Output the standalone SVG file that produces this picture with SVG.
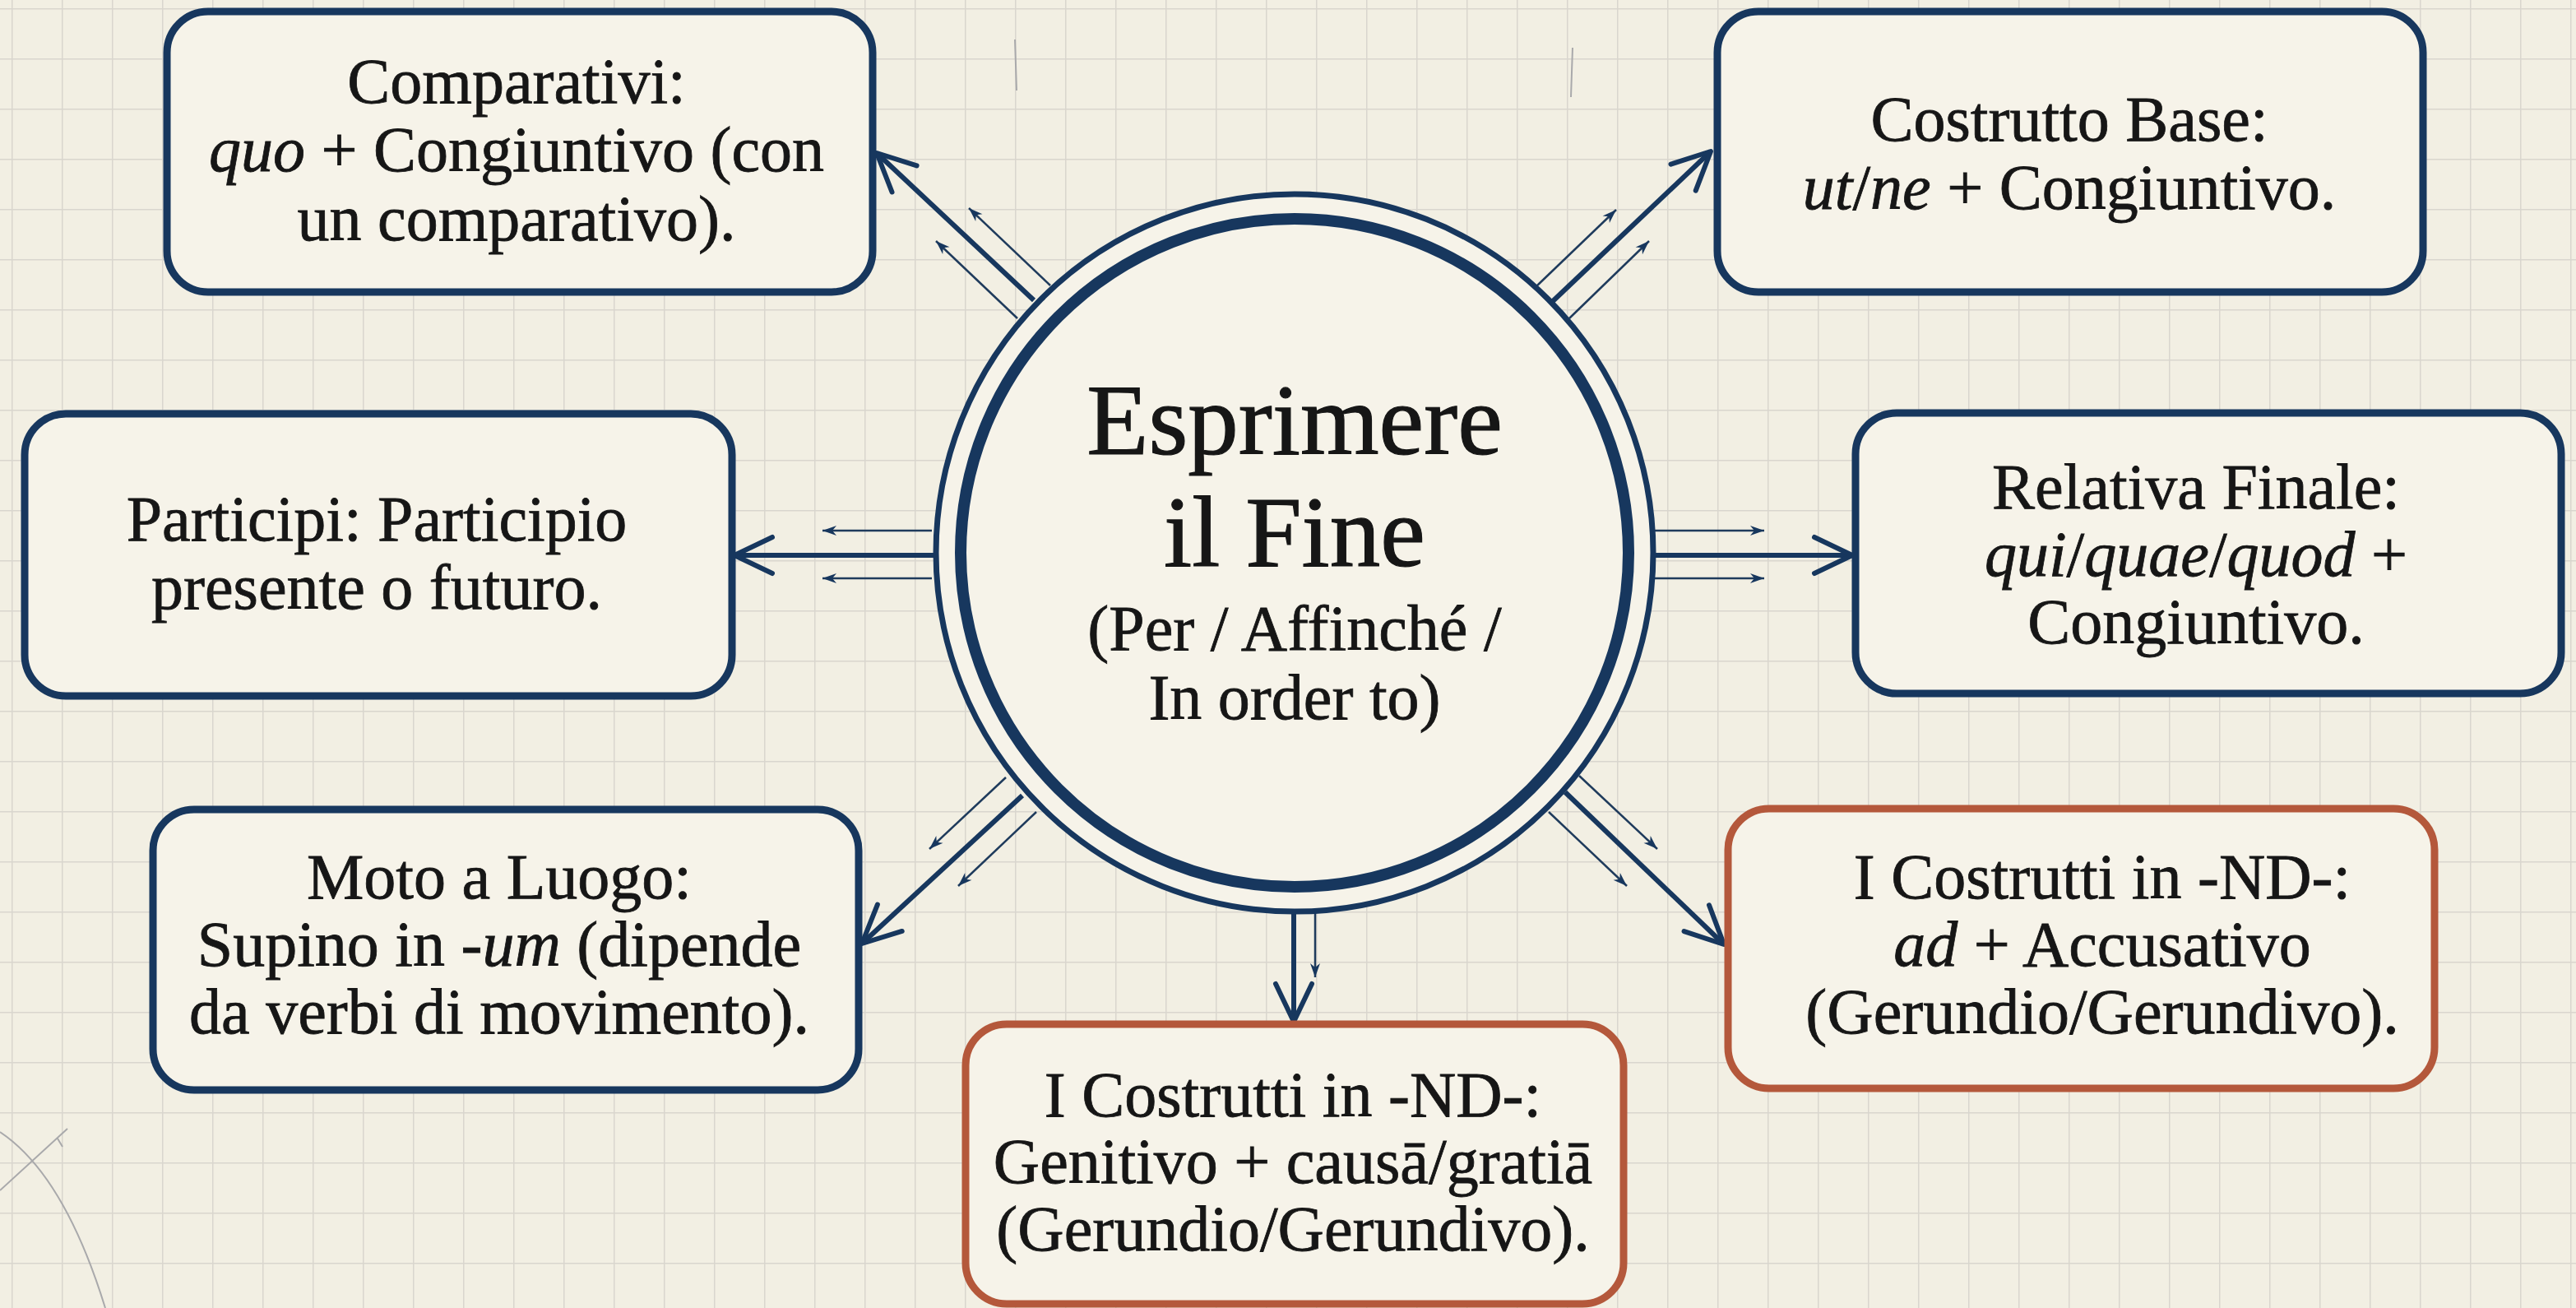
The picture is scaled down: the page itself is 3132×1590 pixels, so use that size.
<svg xmlns="http://www.w3.org/2000/svg" width="3132" height="1590" viewBox="0 0 3132 1590">
<defs>
<pattern id="grid" x="14" y="10" width="61" height="61" patternUnits="userSpaceOnUse">
<path d="M0,0 V61 M0,0 H61" fill="none" stroke="#d9d6ce" stroke-width="3"/>
</pattern>
<marker id="vhead" markerUnits="userSpaceOnUse" markerWidth="80" markerHeight="80" viewBox="-60 -40 80 80" refX="0" refY="0" orient="auto" overflow="visible">
<path d="M-46,-22 L0,0 L-46,22" fill="none" stroke="#17375e" stroke-width="6" stroke-linecap="round" stroke-linejoin="round"/>
</marker>
<marker id="shead" markerUnits="userSpaceOnUse" markerWidth="30" markerHeight="20" viewBox="-20 -10 30 20" refX="0" refY="0" orient="auto" overflow="visible">
<path d="M-17,-6 L0,0 L-17,6 L-12,0 Z" fill="#17375e"/>
</marker>
</defs>
<style>
.box{fill:#f6f3e9;stroke-width:9}
.navy{stroke:#17375e}
.rust{stroke:#b4583b}
.t{font-family:"Liberation Serif","Times New Roman",serif;font-size:78px;fill:#161616;stroke:#161616;stroke-width:0.8;text-anchor:middle}
.title{font-family:"Liberation Serif","Times New Roman",serif;font-size:123px;fill:#161616;stroke:#161616;stroke-width:1.2;text-anchor:middle}
.sub{font-family:"Liberation Serif","Times New Roman",serif;font-size:78px;fill:#161616;stroke:#161616;stroke-width:0.8;text-anchor:middle}
.i{font-style:italic}
.main{stroke:#17375e;stroke-width:6;fill:none;marker-end:url(#vhead)}
.thin{stroke:#1f3b5c;stroke-width:2.5;fill:none;marker-end:url(#shead)}
.sketch{stroke:#a9a9ab;stroke-width:2;fill:none}
</style>
<rect width="3132" height="1590" fill="#f2efe3"/>
<rect width="3132" height="1590" fill="url(#grid)"/>
<g id="sketches">
<path class="sketch" d="M0,1447 L82,1372 M70,1384 l6,10 M0,1376 Q78,1428 128,1590"/>
<path class="sketch" d="M1234,48 l2,62 M1912,58 l-2,60" stroke-width="1.5"/>
</g>
<g id="connectors">
<line class="main" x1="1138" y1="675" x2="893" y2="675"/>
<line class="thin" x1="1133" y1="645" x2="1000" y2="645"/>
<line class="thin" x1="1133" y1="703" x2="1000" y2="703"/>
<line class="main" x1="2010" y1="675" x2="2252" y2="675"/>
<line class="thin" x1="2012" y1="645" x2="2145" y2="645"/>
<line class="thin" x1="2012" y1="703" x2="2145" y2="703"/>
<line class="main" x1="1257" y1="365" x2="1066" y2="186"/>
<line class="thin" x1="1277" y1="347" x2="1178" y2="253"/>
<line class="thin" x1="1237" y1="387" x2="1138" y2="293"/>
<line class="main" x1="1887" y1="367" x2="2080" y2="184"/>
<line class="thin" x1="1868" y1="348" x2="1965" y2="255"/>
<line class="thin" x1="1908" y1="387" x2="2005" y2="293"/>
<line class="main" x1="1243" y1="967" x2="1048" y2="1147"/>
<line class="thin" x1="1223" y1="945" x2="1130" y2="1032"/>
<line class="thin" x1="1260" y1="987" x2="1165" y2="1077"/>
<line class="main" x1="1903" y1="963" x2="2096" y2="1148"/>
<line class="thin" x1="1920" y1="943" x2="2015" y2="1032"/>
<line class="thin" x1="1883" y1="987" x2="1978" y2="1077"/>
<line class="main" x1="1573" y1="1108" x2="1573" y2="1242"/>
<line class="thin" x1="1599" y1="1108" x2="1599" y2="1188"/>
</g>
<g id="center">
<circle cx="1574" cy="672" r="436" fill="#f6f3e9" stroke="#17375e" stroke-width="7"/>
<circle cx="1574" cy="672" r="406" fill="#f6f3e9" stroke="#17375e" stroke-width="14"/>
<text class="title" x="1574" y="552">Esprimere</text>
<text class="title" x="1574" y="688">il Fine</text>
<text class="sub" x="1574" y="790">(Per / Affinché /</text>
<text class="sub" x="1574" y="874">In order to)</text>
</g>
<g id="comparativi">
<rect class="box navy" x="203" y="14" width="858" height="341" rx="50"/>
<text class="t" x="628" y="125">Comparativi:</text>
<text class="t" x="628" y="208"><tspan class="i">quo</tspan> + Congiuntivo (con</text>
<text class="t" x="628" y="292">un comparativo).</text>
</g>
<g id="costrutto-base">
<rect class="box navy" x="2088" y="14" width="858" height="341" rx="50"/>
<text class="t" x="2516" y="171">Costrutto Base:</text>
<text class="t" x="2516" y="254"><tspan class="i">ut</tspan>/<tspan class="i">ne</tspan> + Congiuntivo.</text>
</g>
<g id="participi">
<rect class="box navy" x="30" y="503" width="860" height="343" rx="50"/>
<text class="t" x="458" y="657">Participi: Participio</text>
<text class="t" x="458" y="740">presente o futuro.</text>
</g>
<g id="relativa-finale">
<rect class="box navy" x="2256" y="502" width="858" height="341" rx="50"/>
<text class="t" x="2670" y="618">Relativa Finale:</text>
<text class="t" x="2670" y="700"><tspan class="i">qui</tspan>/<tspan class="i">quae</tspan>/<tspan class="i">quod</tspan> +</text>
<text class="t" x="2670" y="782">Congiuntivo.</text>
</g>
<g id="moto-a-luogo">
<rect class="box navy" x="186" y="984" width="858" height="341" rx="50"/>
<text class="t" x="607" y="1092">Moto a Luogo:</text>
<text class="t" x="607" y="1174">Supino in <tspan class="i">-um</tspan> (dipende</text>
<text class="t" x="607" y="1256">da verbi di movimento).</text>
</g>
<g id="nd-accusativo">
<rect class="box rust" x="2101" y="983" width="859" height="340" rx="50"/>
<text class="t" x="2556" y="1092">I Costrutti in -ND-:</text>
<text class="t" x="2556" y="1174"><tspan class="i">ad</tspan> + Accusativo</text>
<text class="t" x="2556" y="1256">(Gerundio/Gerundivo).</text>
</g>
<g id="nd-genitivo">
<rect class="box rust" x="1174" y="1245" width="800" height="340" rx="50"/>
<text class="t" x="1572" y="1357">I Costrutti in -ND-:</text>
<text class="t" x="1572" y="1438">Genitivo + causā/gratiā</text>
<text class="t" x="1572" y="1520">(Gerundio/Gerundivo).</text>
</g>
</svg>
